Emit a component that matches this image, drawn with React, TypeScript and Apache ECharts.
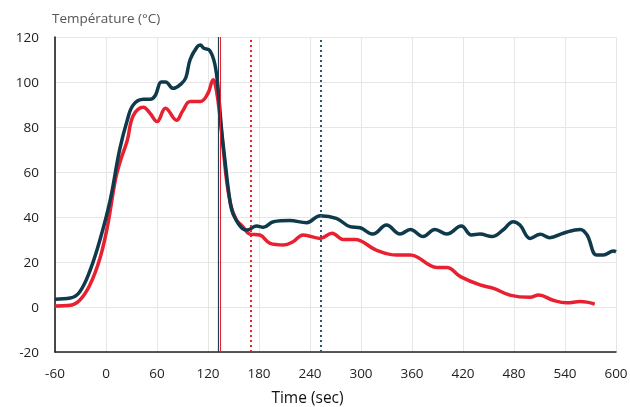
import React, { useEffect, useRef } from "react";
import * as echarts from "echarts";

const darkTime = [-60, -42, -31, -19, -7, 5, 16, 25, 32, 44, 52, 58, 65, 70, 79, 89, 94, 99, 107, 111, 115, 122, 128, 132, 136, 140, 144, 148, 153, 160, 166, 177, 185, 197, 216, 236, 252, 271, 287, 299, 314, 330, 346, 358, 373, 387, 401, 418, 430, 440, 454, 467, 479, 487, 499, 511, 522, 538, 558, 566, 577, 585, 597, 600];
const darkValue = [3.5, 4, 6.7, 16, 30, 47.6, 69.8, 83, 89.8, 92.3, 92.3, 94, 100, 100, 97.2, 99.4, 102, 110, 115.5, 116.4, 115, 114, 108, 96.4, 78.7, 65, 52, 43, 38.7, 35, 34.2, 36, 35.4, 37.9, 38.4, 37.5, 40.6, 39.4, 35.7, 35.2, 32.4, 36.4, 32.4, 34.5, 31.3, 34.5, 32.4, 36, 32, 32.4, 31.3, 34.2, 37.9, 36.4, 30.5, 32.3, 30.8, 32.8, 34.5, 32, 23.1, 23.1, 24.9, 24.5];

const redTime = [-60, -42, -31, -19, -7, 2, 11, 17, 25, 32, 44, 52, 60, 70, 83, 90, 99, 111, 120, 126, 130, 134, 138, 142, 147, 153, 161, 169, 181, 193, 209, 220, 232, 252, 266, 279, 293, 318, 342, 358, 389, 401, 417, 440, 456, 475, 499, 509, 526, 542, 558, 575];
const redValue = [0.5, 0.8, 3, 9.8, 21.8, 36.4, 56.4, 65, 74, 85, 88.8, 86, 82.4, 88.3, 83, 87, 91.3, 91.3, 95, 101, 96, 84.6, 70, 56, 45, 39, 35.7, 32.4, 32, 28.3, 27.6, 29, 32, 30.5, 32.8, 30, 30, 25.3, 23.1, 23.1, 17.6, 17.6, 13.5, 9.8, 8.3, 5.3, 4.3, 5.3, 3, 1.9, 2.4, 1.3];

const markTimes = [132, 134, 170, 253];
const xTicks = { min: -60, max: 600, interval: 60 };
const yTicks = { min: -20, max: 120, interval: 20 };

const DARK = "#0f3a4b";
const RED = "#e8202f";
const FONT = "'Open Sans', 'Noto Sans', sans-serif";

export default function App() {
  const ref = useRef<HTMLDivElement>(null);
  useEffect(() => {
    if (!ref.current) return;
    const chart = echarts.init(ref.current, null, { renderer: "svg" });
    const darkData = darkTime.map((t, i) => [t, darkValue[i]]);
    const redData = redTime.map((t, i) => [t, redValue[i]]);
    chart.setOption({
      animation: false,
      grid: { left: 55, right: 14, top: 37, bottom: 55, containLabel: false, outerBoundsMode: "none" },
      xAxis: {
        type: "value",
        min: xTicks.min,
        max: xTicks.max,
        interval: xTicks.interval,
        name: "Time (sec)",
        nameLocation: "middle",
        nameGap: 37,
        nameTextStyle: { fontFamily: FONT, fontSize: 15.5, color: "#111", padding: [0, 56, 0, 0] },
        axisLine: { onZero: false, lineStyle: { color: "#222", width: 1.5 } },
        axisTick: { show: false },
        axisLabel: { fontFamily: FONT, fontSize: 13.5, color: "#222", margin: 14 },
        splitLine: { show: true, lineStyle: { color: "#e6e6e6", width: 1 } },
      },
      yAxis: {
        type: "value",
        min: yTicks.min,
        max: yTicks.max,
        interval: yTicks.interval,
        name: "Température (°C)",
        nameLocation: "end",
        nameGap: 12,
        nameTextStyle: { fontFamily: FONT, fontSize: 13.5, color: "#555", align: "left", padding: [0, 0, 0, -3] },
        axisLine: { show: true, onZero: false, lineStyle: { color: "#111", width: 1.5 } },
        axisTick: { show: false },
        axisLabel: { fontFamily: FONT, fontSize: 13.5, color: "#222", margin: 16 },
        splitLine: { show: true, lineStyle: { color: "#e6e6e6", width: 1 } },
      },
      series: [
        {
          type: "line",
          data: redData,
          smooth: 0.4,
          showSymbol: false,
          lineStyle: { color: RED, width: 3.5 },
          z: 3,
          markLine: {
            silent: true,
            symbol: "none",
            label: { show: false },
            data: [
              { xAxis: markTimes[1], lineStyle: { color: RED, width: 1, type: "solid" } },
              { xAxis: markTimes[2], lineStyle: { color: RED, width: 2, type: [2, 3] } },
            ],
          },
        },
        {
          type: "line",
          data: darkData,
          smooth: 0.4,
          showSymbol: false,
          lineStyle: { color: DARK, width: 3.5 },
          z: 4,
          markLine: {
            silent: true,
            symbol: "none",
            label: { show: false },
            data: [
              { xAxis: markTimes[0], lineStyle: { color: "#1d3f50", width: 1.2, type: "solid" } },
              { xAxis: markTimes[3], lineStyle: { color: "#2f5667", width: 2, type: [2, 3] } },
            ],
          },
        },
      ],
    });
    return () => chart.dispose();
  }, []);
  return <div ref={ref} style={{ position: "fixed", left: 0, top: 0, width: 630, height: 407 }} />;
}
